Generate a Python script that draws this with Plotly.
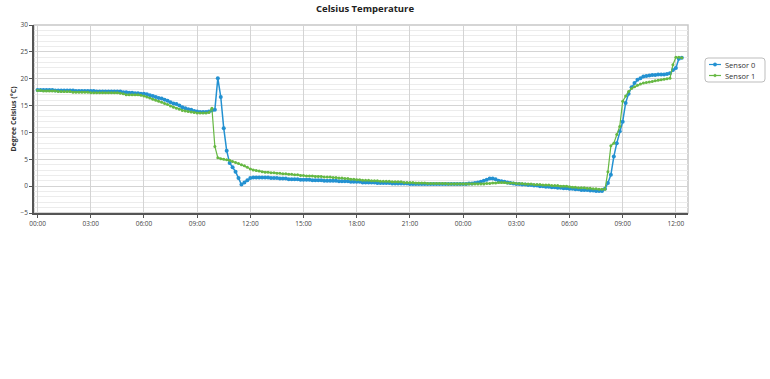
import pandas as pd
import plotly.graph_objects as go

# Sensor readings every 10 minutes, starting 00:00 day 1
sensor0 = [
    17.9, 17.9, 17.9, 17.9, 17.9, 17.9,
    17.8, 17.8, 17.8, 17.8, 17.8, 17.8,
    17.8, 17.7, 17.7, 17.7, 17.7, 17.7,
    17.7, 17.7, 17.6, 17.6, 17.6, 17.6,
    17.6, 17.6, 17.6, 17.6, 17.6, 17.5,
    17.5, 17.4, 17.4, 17.3, 17.3, 17.2,
    17.2, 17.1, 16.9, 16.8, 16.6, 16.4,
    16.3, 16.1, 15.9, 15.6, 15.4, 15.3,
    15.0, 14.7, 14.5, 14.3, 14.2, 14.0,
    13.9, 13.8, 13.8, 13.8, 13.9, 14.1,
    14.2, 20.1, 16.6, 10.8, 6.6, 4.3,
    3.5, 2.7, 1.5, 0.3, 0.7, 1.1,
    1.5, 1.6, 1.6, 1.6, 1.6, 1.6,
    1.6, 1.5, 1.5, 1.5, 1.4, 1.4,
    1.4, 1.3, 1.3, 1.3, 1.3, 1.2,
    1.2, 1.2, 1.2, 1.1, 1.1, 1.1,
    1.1, 1.0, 1.0, 1.0, 1.0, 1.0,
    0.9, 0.9, 0.9, 0.9, 0.8, 0.8,
    0.8, 0.8, 0.7, 0.7, 0.7, 0.7,
    0.7, 0.6, 0.6, 0.6, 0.6, 0.6,
    0.5, 0.5, 0.5, 0.5, 0.5, 0.5,
    0.4, 0.4, 0.4, 0.4, 0.4, 0.4,
    0.4, 0.4, 0.4, 0.4, 0.4, 0.4,
    0.4, 0.4, 0.4, 0.4, 0.4, 0.4,
    0.4, 0.4, 0.5, 0.5, 0.6, 0.7,
    0.8, 1.0, 1.2, 1.4, 1.4, 1.3,
    1.0, 0.9, 0.8, 0.7, 0.6, 0.5,
    0.4, 0.4, 0.3, 0.3, 0.2, 0.2,
    0.1, 0.1, 0.0, 0.0, -0.1, -0.1,
    -0.2, -0.2, -0.3, -0.3, -0.4, -0.4,
    -0.5, -0.5, -0.6, -0.6, -0.7, -0.7,
    -0.7, -0.8, -0.8, -0.9, -0.9, -0.9,
    -0.5, 0.6, 2.1, 5.5, 8.0, 10.2,
    12.0, 15.5, 17.2, 18.4, 19.2, 19.8,
    20.1, 20.4, 20.5, 20.6, 20.7, 20.7,
    20.8, 20.8, 20.8, 20.9, 21.0, 21.6,
    22.0, 23.7, 23.9,
]

sensor1 = [
    17.8, 17.8, 17.7, 17.7, 17.7, 17.7,
    17.7, 17.6, 17.6, 17.6, 17.6, 17.6,
    17.5, 17.5, 17.5, 17.5, 17.5, 17.5,
    17.4, 17.4, 17.4, 17.4, 17.4, 17.4,
    17.4, 17.4, 17.4, 17.4, 17.3, 17.2,
    17.0, 17.0, 17.0, 17.0, 17.0, 16.9,
    16.8, 16.6, 16.4, 16.2, 16.0, 15.8,
    15.6, 15.4, 15.2, 14.9, 14.7, 14.5,
    14.3, 14.1, 14.0, 13.9, 13.8, 13.7,
    13.6, 13.6, 13.6, 13.6, 13.7, 14.5,
    7.4, 5.3, 5.1, 5.0, 4.9, 4.8,
    4.6, 4.4, 4.2, 4.0, 3.8, 3.5,
    3.2, 3.0, 2.9, 2.8, 2.7, 2.6,
    2.6, 2.5, 2.5, 2.4, 2.4, 2.3,
    2.3, 2.2, 2.2, 2.1, 2.1, 2.0,
    2.0, 1.9, 1.9, 1.9, 1.8, 1.8,
    1.8, 1.7, 1.7, 1.7, 1.6, 1.6,
    1.5, 1.5, 1.4, 1.4, 1.3, 1.3,
    1.2, 1.2, 1.1, 1.1, 1.1, 1.0,
    1.0, 1.0, 0.9, 0.9, 0.9, 0.9,
    0.8, 0.8, 0.8, 0.8, 0.7, 0.7,
    0.7, 0.7, 0.6, 0.6, 0.6, 0.6,
    0.5, 0.5, 0.5, 0.5, 0.5, 0.5,
    0.5, 0.4, 0.4, 0.4, 0.4, 0.4,
    0.4, 0.4, 0.4, 0.4, 0.4, 0.4,
    0.4, 0.4, 0.5, 0.5, 0.6, 0.6,
    0.7, 0.7, 0.7, 0.6, 0.6, 0.6,
    0.5, 0.5, 0.5, 0.4, 0.4, 0.4,
    0.3, 0.3, 0.3, 0.2, 0.2, 0.2,
    0.1, 0.1, 0.1, 0.0, 0.0, 0.0,
    -0.1, -0.2, -0.2, -0.3, -0.3, -0.3,
    -0.4, -0.4, -0.5, -0.5, -0.6, -0.6,
    -0.6, 2.7, 7.5, 8.0, 9.6, 11.1,
    15.8, 16.8, 17.6, 18.2, 18.5, 18.8,
    19.0, 19.2, 19.3, 19.4, 19.5, 19.6,
    19.7, 19.8, 19.9, 20.0, 20.1, 22.6,
    24.0, 24.0, 23.9,
]

series_names = ["Sensor 0", "Sensor 1"]
start_time = "2020-01-01 00:00"
sample_step = "10min"
y_ticks = [-5, 0, 5, 10, 15, 20, 25, 30]

times0 = pd.date_range(start_time, periods=len(sensor0), freq=sample_step)
times1 = pd.date_range(start_time, periods=len(sensor1), freq=sample_step)

BLUE = "#2391d1"
GREEN = "#66b843"
COLORS = [BLUE, GREEN]
FONT = "Open Sans"

W, H = 770, 379
ML, MR, MT, MB = 34, 82, 25, 166
PW, PH = W - ML - MR, H - MT - MB


def px(x):
    return (x - ML) / PW


def py(y):
    return (H - MB - y) / PH


fig = go.Figure()
fig.add_trace(go.Scatter(
    x=times0, y=sensor0, name=series_names[0], mode="lines+markers",
    line=dict(color=BLUE, width=1.5),
    marker=dict(color=BLUE, size=4, symbol="circle"),
    showlegend=False,
))
fig.add_trace(go.Scatter(
    x=times1, y=sensor1, name=series_names[1], mode="lines+markers",
    line=dict(color=GREEN, width=1.2),
    marker=dict(color=GREEN, size=3, symbol="circle"),
    showlegend=False,
))

# Legend box drawn by hand (compact, rounded)
lx0, lx1, ly0, ly1, r = 705, 765, 58, 82, 3
shapes = [
    dict(type="rect", xref="paper", yref="paper", x0=0, x1=1, y0=0, y1=1,
         line=dict(color="#c8c8c8", width=1.5), layer="below"),
    dict(type="path", xref="paper", yref="paper",
         path=(f"M {px(lx0 + r)} {py(ly0)} L {px(lx1 - r)} {py(ly0)} "
               f"Q {px(lx1)} {py(ly0)} {px(lx1)} {py(ly0 + r)} "
               f"L {px(lx1)} {py(ly1 - r)} Q {px(lx1)} {py(ly1)} {px(lx1 - r)} {py(ly1)} "
               f"L {px(lx0 + r)} {py(ly1)} Q {px(lx0)} {py(ly1)} {px(lx0)} {py(ly1 - r)} "
               f"L {px(lx0)} {py(ly0 + r)} Q {px(lx0)} {py(ly0)} {px(lx0 + r)} {py(ly0)} Z"),
         line=dict(color="#bdbdbd", width=1), fillcolor="white"),
]
annotations = []
for i, (name, col) in enumerate(zip(series_names, COLORS)):
    yy = 64.5 + i * 11
    shapes.append(dict(type="line", xref="paper", yref="paper",
                       x0=px(709), x1=px(721), y0=py(yy), y1=py(yy),
                       line=dict(color=col, width=1.2)))
    rr = 1.7 if i == 0 else 1.3
    shapes.append(dict(type="circle", xref="paper", yref="paper",
                       x0=px(715 - rr), x1=px(715 + rr), y0=py(yy - rr), y1=py(yy + rr),
                       line=dict(color=col, width=0.5), fillcolor=col))
    annotations.append(dict(xref="paper", yref="paper", x=px(723), y=py(yy),
                            xanchor="left", yanchor="middle", showarrow=False,
                            text=name, font=dict(size=7.5, color="#333", family=FONT)))

fig.update_layout(
    width=W, height=H,
    margin=dict(l=ML, r=MR, t=MT, b=MB, autoexpand=False),
    paper_bgcolor="white", plot_bgcolor="white",
    font=dict(family=FONT, size=7, color="#444"),
    title=dict(text="<b>Celsius Temperature</b>", x=365 / W, xanchor="center",
               y=1 - 8.5 / H, yanchor="middle",
               font=dict(size=9.5, color="#222", family=FONT)),
    showlegend=False,
    shapes=shapes,
    annotations=annotations,
)

fig.update_xaxes(
    type="date", automargin=False,
    range=["2019-12-31 23:48", "2020-01-02 12:41"],
    tick0=start_time, dtick=3 * 3600 * 1000, tickformat="%H:%M",
    showgrid=True, gridcolor="#d4d4d4", gridwidth=1,
    showline=True, linecolor="#555", linewidth=1.5,
    ticks="outside", ticklen=3, tickcolor="#555",
    tickfont=dict(size=6.5, color="#444"),
    zeroline=False,
)
fig.update_yaxes(
    automargin=False,
    range=[-5, 30], tickvals=y_ticks,
    showgrid=True, gridcolor="#d4d4d4", gridwidth=1,
    minor=dict(dtick=1, showgrid=True, gridcolor="#ececec", gridwidth=1),
    showline=True, linecolor="#555", linewidth=1.5,
    ticks="outside", ticklen=3, tickcolor="#555",
    tickfont=dict(size=6.5, color="#444"),
    zeroline=False,
    title=dict(text="<b>Degree Celsius (°C)</b>", font=dict(size=7, color="#333"), standoff=3),
)

fig.write_html("out.html",
               config=dict(displayModeBar=False),
               post_script="document.body.style.margin='0';document.body.style.overflow='hidden';")
